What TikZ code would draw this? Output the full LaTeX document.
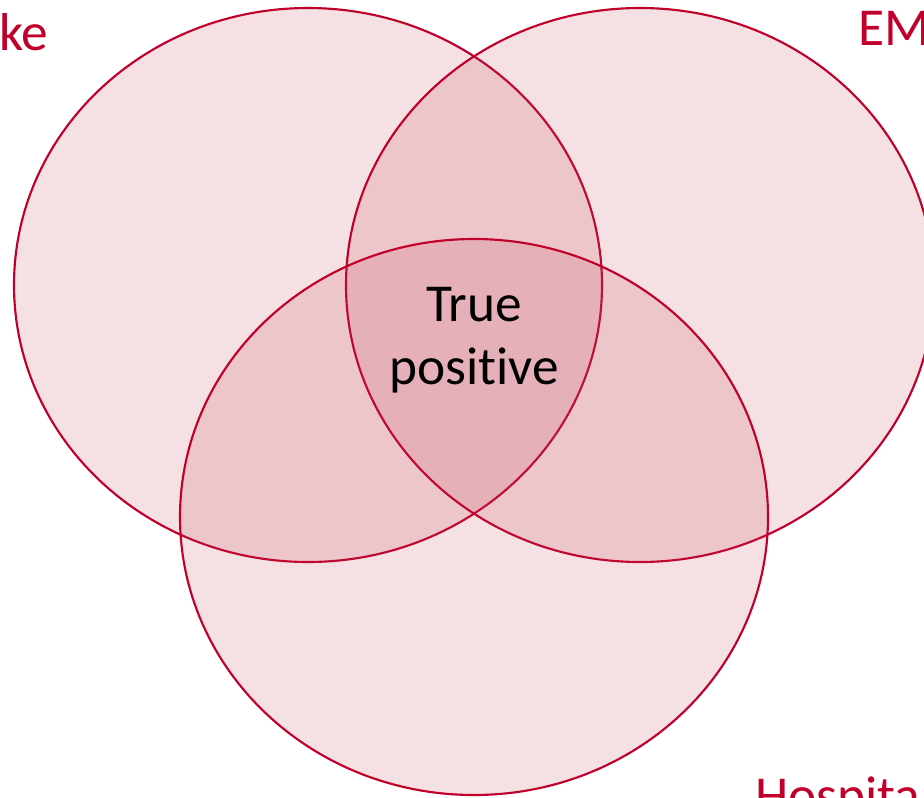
\documentclass[tikz,border=0pt]{standalone}
\usepackage{fontspec}
\setmainfont[Ligatures={NoCommon,NoRequired,NoContextual}]{Carlito}
\definecolor{vred}{RGB}{192,0,42}
\definecolor{vfill}{RGB}{193,61,80}
\begin{document}
\begin{tikzpicture}[x=0.75pt,y=-0.75pt,
  venn/.style={draw=vred,line width=1.6pt,fill=vfill,fill opacity=0.16},
  lbl/.style={text=vred,font=\fontsize{40}{48}\selectfont,inner sep=0pt},
  ctr/.style={font=\fontsize{40}{47}\selectfont,align=center,inner sep=0pt}]
\useasboundingbox (0,0) rectangle (924,797);
\clip (0,0) rectangle (924,797);
\path[venn] (308,285) ellipse [x radius=294, y radius=277];
\path[venn] (640,285) ellipse [x radius=294, y radius=277];
\path[venn] (474,517) ellipse [x radius=294, y radius=278];
\node[lbl,anchor=base west] (l1) at (-1,50) {ke};
\node[lbl,anchor=base west] (l2) at (858,45) {EM};
\node[lbl,anchor=base west] (l3) at (755,813) {Hospita};
\node[ctr] (tp) at (474,340) {True\\positive};
\end{tikzpicture}
\end{document}
